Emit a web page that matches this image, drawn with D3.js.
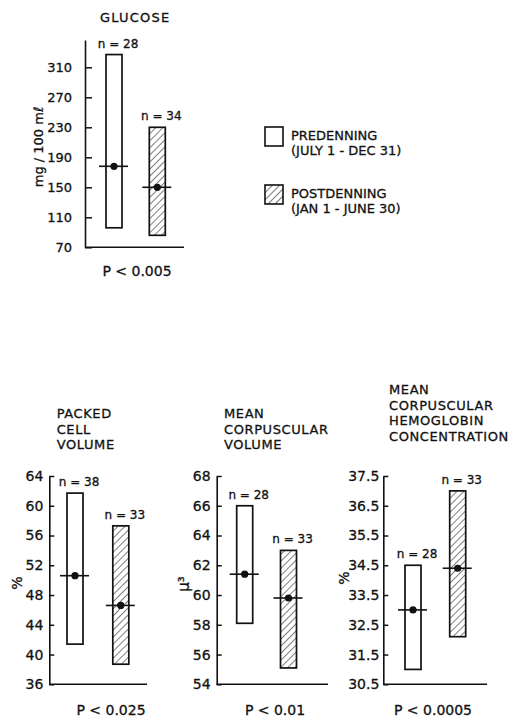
<!DOCTYPE html>
<html>
<head>
<meta charset="utf-8">
<script src="https://cdn.jsdelivr.net/npm/d3@7"></script>
<style>
  body { margin: 0; background: #fff; }
  text { font-family: "DejaVu Sans", sans-serif; fill: #111; stroke: #111; stroke-width: 0.3px; }
</style>
</head>
<body>
<div id="chart"></div>
<script>
// groups (legend)
var groups = ["PREDENNING", "POSTDENNING"]
var groupDates = ["(JULY 1 - DEC 31)", "(JAN 1 - JUNE 30)"]

// one entry per panel
var titles = [
  ["GLUCOSE"],
  ["PACKED", "CELL", "VOLUME"],
  ["MEAN", "CORPUSCULAR", "VOLUME"],
  ["MEAN", "CORPUSCULAR", "HEMOGLOBIN", "CONCENTRATION"]
]
var units = ["mg / 100 m\u2113", "%", "\u03bc\u00b3", "%"]
var pValues = ["P < 0.005", "P < 0.025", "P < 0.01", "P < 0.0005"]
var nCounts = [[28, 34], [38, 33], [28, 33], [28, 33]]
var rangeLow = [[96, 86], [41.4, 38.7], [58.1, 55.1], [31.0, 32.1]]
var rangeHigh = [[327, 230], [61.7, 57.3], [66.0, 63.0], [34.5, 37.0]]
var means = [[178, 150], [50.6, 46.6], [61.4, 59.8], [33.0, 34.4]]
var yDomains = [[70, 346.4], [36, 64], [54, 68], [30.5, 37.5]]
var yTicks = [
  [70, 110, 150, 190, 230, 270, 310],
  [36, 40, 44, 48, 52, 56, 60, 64],
  [54, 56, 58, 60, 62, 64, 66, 68],
  [30.5, 31.5, 32.5, 33.5, 34.5, 35.5, 36.5, 37.5]
]

// where each panel sits on the page
var layout = [
  {ax: 85, axEnd: 184, top: 40, bottom: 247.3, b0: 114, b1: 157.3, titleX: 100, titleY: 22, pX: 137, pY: 276, unitX: 38, unitY: 147, unitFs: 13, pad: 13, tick: 7, fs: 13},
  {ax: 49.3, axEnd: 147, top: 476, bottom: 684.3, b0: 75, b1: 120.8, titleX: 56.7, titleY: 418, pX: 111, pY: 715, unitX: 17, unitY: 583, unitFs: 14, pad: 6, tick: 5, fs: 14},
  {ax: 216.7, axEnd: 328, top: 476, bottom: 684.3, b0: 244.7, b1: 288.5, titleX: 224, titleY: 418, pX: 275, pY: 715, unitX: 184, unitY: 584, unitFs: 15, pad: 6, tick: 5, fs: 14},
  {ax: 383.3, axEnd: 487, top: 476, bottom: 684.3, b0: 413, b1: 457.7, titleX: 389, titleY: 394, pX: 433, pY: 715, unitX: 344, unitY: 578, unitFs: 14, pad: 4, tick: 5, fs: 14}
]

var W = 521, H = 718
var ink = "#111"

var svg = d3.select("#chart").append("svg")
  .attr("width", W)
  .attr("height", H)
  .style("background", "#fff")

// hatch for postdenning
var defs = svg.append("defs")
defs.append("pattern")
  .attr("id", "hatch")
  .attr("patternUnits", "userSpaceOnUse")
  .attr("width", 5)
  .attr("height", 5)
  .attr("patternTransform", "rotate(45)")
  .append("line")
  .attr("x1", 0).attr("y1", 0)
  .attr("x2", 0).attr("y2", 5)
  .attr("stroke", ink)
  .attr("stroke-width", 1.1)

var fills = ["#fff", "url(#hatch)"]

layout.forEach(function(L, i) {
  var g = svg.append("g").attr("class", "panel")

  var y = d3.scaleLinear().domain(yDomains[i]).range([L.bottom, L.top])
  var x = d3.scalePoint().domain(groups).range([L.b0, L.b1])

  // title
  g.append("text")
    .attr("x", L.titleX)
    .attr("y", L.titleY)
    .style("font-size", "13px")
    .style("letter-spacing", i == 0 ? "1.2px" : "0.6px")
    .selectAll("tspan")
    .data(titles[i])
    .enter().append("tspan")
    .attr("x", L.titleX)
    .attr("dy", function(d, j) { return j ? 15.5 : 0 })
    .text(function(d) { return d })

  // y axis, ticks pointing inward
  var axis = g.append("g")
    .attr("transform", "translate(" + L.ax + ",0)")
    .call(d3.axisLeft(y)
      .tickValues(yTicks[i])
      .tickSizeInner(-L.tick)
      .tickSizeOuter(0)
      .tickPadding(L.pad)
      .tickFormat(function(d) { return i == 3 ? d3.format(".1f")(d) : d }))
  axis.select(".domain").attr("stroke", ink).attr("stroke-width", 1.6)
  axis.selectAll(".tick line").attr("stroke", ink).attr("stroke-width", 1.5)
  axis.selectAll(".tick text")
    .style("font-family", "'DejaVu Sans', sans-serif")
    .style("font-size", L.fs + "px")
    .attr("fill", ink)

  // baseline
  g.append("line")
    .attr("x1", L.ax).attr("x2", L.axEnd)
    .attr("y1", y(yDomains[i][0])).attr("y2", y(yDomains[i][0]))
    .attr("stroke", ink).attr("stroke-width", 1.6)

  // unit label
  g.append("text")
    .attr("transform", "translate(" + L.unitX + "," + L.unitY + ") rotate(-90)")
    .attr("text-anchor", "middle")
    .attr("dy", "0.35em")
    .style("font-size", L.unitFs + "px")
    .text(units[i])

  // range bars
  groups.forEach(function(grp, k) {
    var cx = x(grp), bw = 16
    g.append("rect")
      .attr("x", cx - bw / 2)
      .attr("y", y(rangeHigh[i][k]))
      .attr("width", bw)
      .attr("height", y(rangeLow[i][k]) - y(rangeHigh[i][k]))
      .attr("fill", fills[k])
      .attr("stroke", ink)
      .attr("stroke-width", 1.7)

    g.append("line")
      .attr("x1", cx - 15).attr("x2", cx + 14)
      .attr("y1", y(means[i][k])).attr("y2", y(means[i][k]))
      .attr("stroke", ink).attr("stroke-width", 1.6)

    g.append("circle")
      .attr("cx", cx)
      .attr("cy", y(means[i][k]))
      .attr("r", 3.6)
      .attr("fill", ink)

    g.append("text")
      .attr("x", cx + 4)
      .attr("y", y(rangeHigh[i][k]) - 7)
      .attr("text-anchor", "middle")
      .style("font-size", "12px")
      .text("n = " + nCounts[i][k])
  })

  // p value
  g.append("text")
    .attr("x", L.pX)
    .attr("y", L.pY)
    .attr("text-anchor", "middle")
    .style("font-size", "14px")
    .text(pValues[i])
})

// legend
var legend = svg.append("g").attr("class", "legend")
var leg = legend.selectAll("g").data(groups).enter().append("g")
  .attr("transform", function(d, k) { return "translate(265," + (127 + k * 58) + ")" })

leg.append("rect")
  .attr("width", 18)
  .attr("height", 19)
  .attr("fill", function(d, k) { return fills[k] })
  .attr("stroke", ink)
  .attr("stroke-width", 1.6)

leg.append("text")
  .attr("x", 26)
  .attr("y", 13)
  .style("font-size", "13px")
  .text(function(d) { return d })

leg.append("text")
  .attr("x", 26)
  .attr("y", 28)
  .style("font-size", "13px")
  .text(function(d, k) { return groupDates[k] })
</script>
</body>
</html>
